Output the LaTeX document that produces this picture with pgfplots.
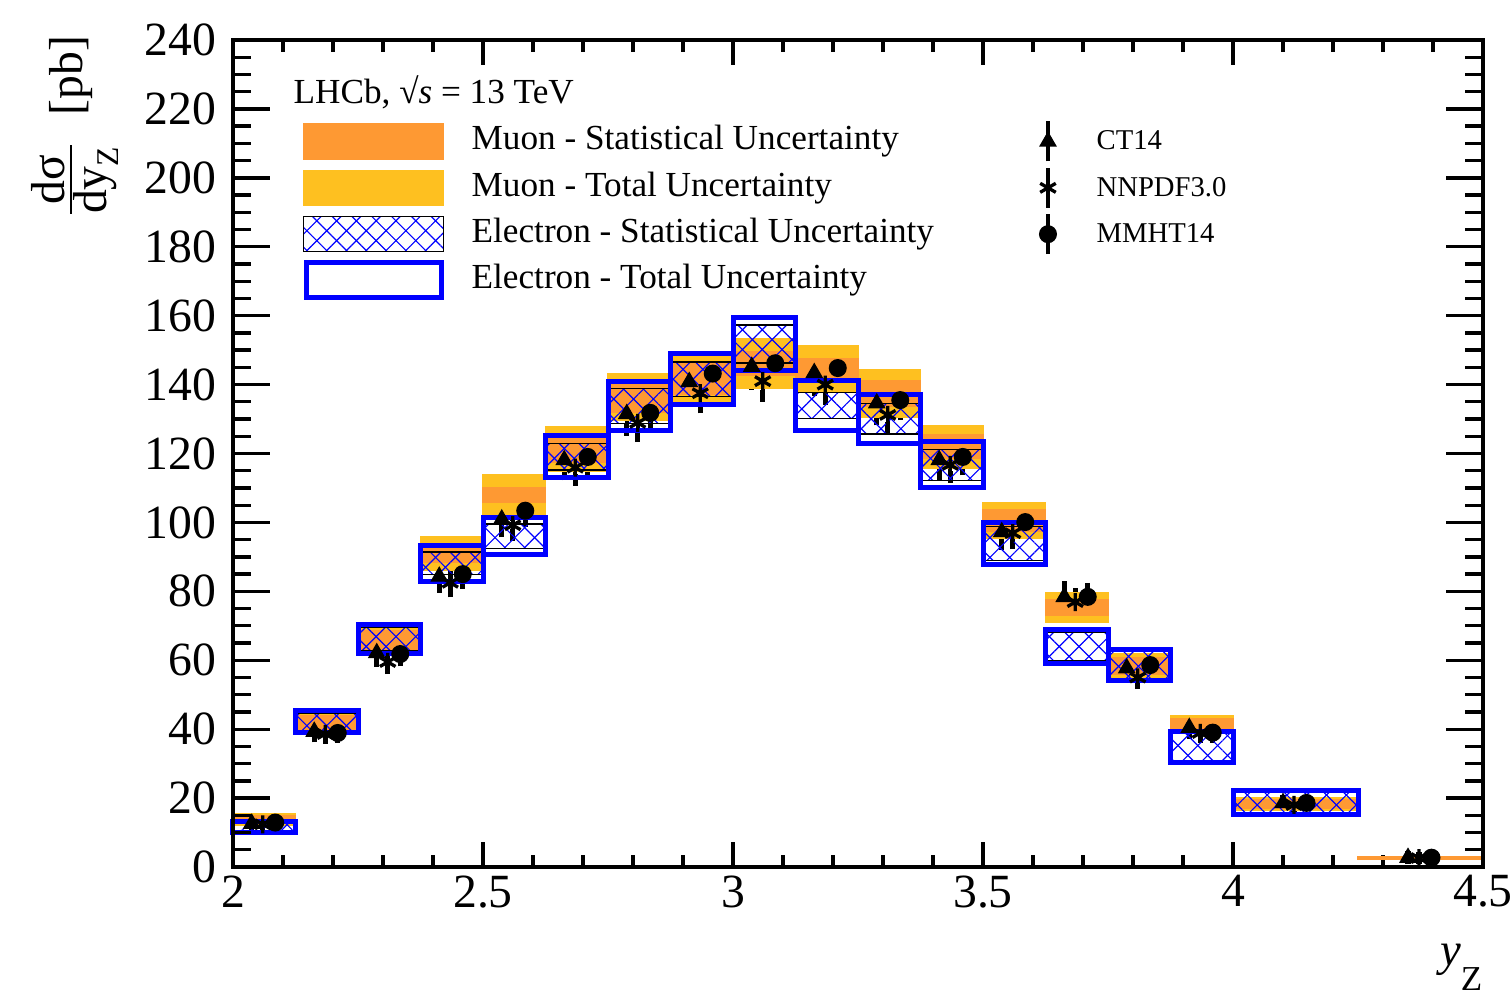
\documentclass[border=0pt]{standalone}
\usepackage{pgfplots}
\pgfplotsset{compat=1.18}
\usepackage{pgfplotstable}
\usetikzlibrary{patterns.meta}
\usepackage{fontspec}
\setmainfont{Liberation Serif}

\definecolor{muonstat}{RGB}{254,153,51}
\definecolor{muontot}{RGB}{254,192,32}
\definecolor{elblue}{RGB}{0,0,255}

\pgfdeclareplotmark{emptymark}{}

\pgfplotstableread{
lo    hi    mu    mus  mut  el    els  elt  ct    nn    mm
2.000 2.125 13.8  1.0  1.6  11.6  1.2  1.5  12.6  12.4  12.9
2.125 2.250 42.0  2.0  2.8  42.1  2.6  3.2  39.3  38.6  38.9
2.250 2.375 65.9  2.6  3.5  66.2  3.5  4.1  62.1  59.5  61.8
2.375 2.500 91.0  2.5  5.0  88.1  3.3  5.2  84.3  82.5  85.0
2.500 2.625 108.0 2.2  5.8  96.0  3.5  5.3  100.9 99.2  103.4
2.625 2.750 121.3 4.0  6.6  119.1 3.9  6.2  118.1 115.9 119.0
2.750 2.875 136.5 4.5  6.8  133.8 5.0  7.0  131.5 128.9 131.8
2.875 3.000 141.8 4.5  6.8  141.6 5.0  7.3  140.8 137.5 143.2
3.000 3.125 146.1 3.5  7.1  151.8 5.5  7.8  145.2 141.0 146.2
3.125 3.250 144.6 3.0  6.8  134.0 3.8  7.3  143.4 140.0 144.8
3.250 3.375 137.4 3.6  6.8  130.1 4.4  7.1  134.6 131.2 135.5
3.375 3.500 122.0 3.5  6.2  116.7 4.5  6.7  118.1 116.7 119.0
3.500 3.625 100.6 3.2  5.1  93.9  5.0  6.0  97.2  96.9  100.1
3.625 3.750 75.3  2.2  4.2  64.0  4.2  4.8  78.4  76.9  78.4
3.750 3.875 58.3  2.5  3.5  58.6  4.0  4.6  57.7  55.0  58.6
3.875 4.000 41.3  1.8  2.5  34.7  4.0  4.5  40.4  38.9  39.0
4.000 4.250 18.3  1.2  1.8  18.7  3.0  3.6  18.6  18.0  18.6
4.250 4.500 2.6   0.3  0.4  nan   nan  nan  2.7   2.6   2.7
}\zdata

\pgfplotsset{
  binscatter/.style={only marks, scatter, mark=emptymark, forget plot,
    visualization depends on={0.5*(\thisrow{hi}-\thisrow{lo}) \as \hw},
    visualization depends on={\thisrow{#1} \as \er},
    scatter/@post marker code/.code={}},
  theory/.style={forget plot, only marks, black, mark size=2.7pt,
    error bars/y dir=both, error bars/y explicit,
    error bars/error bar style={line width=1.2pt, black},
    error bars/error mark options={line width=1.6pt, mark size=1.8pt, black}},
}

\begin{document}
\begin{tikzpicture}
\path[use as bounding box] (-69.9pt,-37.8pt) rectangle (383.1pt,260.1pt);
\begin{axis}[
  at={(0,0)}, anchor=south west, scale only axis,
  width=375pt, height=248.1pt,
  xmin=2, xmax=4.5, ymin=0, ymax=240,
  xtick={2,2.5,3,3.5,4,4.5}, minor x tick num=4, ytick=\empty,
  major tick length=7.5pt, minor tick length=3.7pt,
  axis line style={line width=1.3pt},
  tick style={line width=1pt, black},
  xticklabel style={font=\fontsize{14.3}{16}\selectfont, yshift=1pt},
  /pgf/number format/assume math mode=true,
  legend columns=2,
  legend cell align=left,
  legend style={at={(0.056,0.9053)}, anchor=north west, draw=none, fill=none,
    inner sep=0pt, outer sep=0pt, row sep=0pt,
    nodes={inner sep=0pt, text height=9.5pt, text depth=4.4pt},
    font=\fontsize{10.56}{12}\selectfont,
    /tikz/every even column/.append style={column sep=30.2pt}},
]
% muon total
\addplot[binscatter=mut, scatter/@pre marker code/.code={%
  \fill[muontot] (axis direction cs:-\hw,-\er) rectangle (axis direction cs:\hw,\er);}]
  table[x expr={0.5*(\thisrow{lo}+\thisrow{hi})}, y=mu]{\zdata};
% muon stat
\addplot[binscatter=mus, scatter/@pre marker code/.code={%
  \fill[muonstat] (axis direction cs:-\hw,-\er) rectangle (axis direction cs:\hw,\er);}]
  table[x expr={0.5*(\thisrow{lo}+\thisrow{hi})}, y=mu]{\zdata};
% electron stat
\addplot[binscatter=els, scatter/@pre marker code/.code={%
  \path[pattern={Lines[angle=45,distance=4.2pt,line width=0.35pt]}, pattern color=elblue] (axis direction cs:-\hw,-\er) rectangle (axis direction cs:\hw,\er);
  \path[pattern={Lines[angle=-45,distance=4.2pt,line width=0.35pt]}, pattern color=elblue] (axis direction cs:-\hw,-\er) rectangle (axis direction cs:\hw,\er);}]
  table[x expr={0.5*(\thisrow{lo}+\thisrow{hi})}, y=el]{\zdata};
% electron total
\addplot[binscatter=elt, scatter/@pre marker code/.code={%
  \draw[elblue, line width=1.5pt] (axis direction cs:-\hw,-\er) rectangle (axis direction cs:\hw,\er);}]
  table[x expr={0.5*(\thisrow{lo}+\thisrow{hi})}, y=el]{\zdata};
% theory
\addplot[theory, mark=triangle*]
  table[x expr={0.5*(\thisrow{lo}+\thisrow{hi})-0.025}, y=ct, y error expr={0.035*\thisrow{ct}}]{\zdata};
\addplot[theory, mark=asterisk, mark options={line width=1pt}]
  table[x expr={0.5*(\thisrow{lo}+\thisrow{hi})-0.003}, y=nn, y error expr={0.03*\thisrow{nn}}]{\zdata};
\addplot[theory, mark=*, mark size=2.5pt]
  table[x expr={0.5*(\thisrow{lo}+\thisrow{hi})+0.022}, y=mm, y error expr={0.03*\thisrow{mm}}]{\zdata};

% legend
\addlegendimage{legend image code/.code={\fill[muonstat] (0pt,-5.25pt) rectangle (42pt,5.25pt); \path[draw=none,fill=none] (0pt,0pt) -- (50.4pt,0pt);}}
\addlegendentry{Muon - Statistical Uncertainty}
\addlegendimage{legend image code/.code={\draw[black,line width=1.2pt] (0pt,-6pt)--(0pt,6pt); \pgfsetplotmarksize{2.7pt}\pgfuseplotmark{triangle*} \path[draw=none,fill=none] (-4pt,0pt)--(14.6pt,0pt);}}
\addlegendentry{\fontsize{8.6}{10}\selectfont CT14}
\addlegendimage{legend image code/.code={\fill[muontot] (0pt,-5.25pt) rectangle (42pt,5.25pt); \path[draw=none,fill=none] (0pt,0pt) -- (50.4pt,0pt);}}
\addlegendentry{Muon - Total Uncertainty}
\addlegendimage{legend image code/.code={\draw[black,line width=1.2pt] (0pt,-6pt)--(0pt,6pt); \pgfsetlinewidth{1pt}\pgfsetplotmarksize{2.7pt}\pgfuseplotmark{asterisk} \path[draw=none,fill=none] (-4pt,0pt)--(14.6pt,0pt);}}
\addlegendentry{\fontsize{8.6}{10}\selectfont NNPDF3.0}
\addlegendimage{legend image code/.code={%
  \path[pattern={Lines[angle=45,distance=4.2pt,line width=0.35pt]}, pattern color=elblue] (0pt,-5.25pt) rectangle (42pt,5.25pt);
  \path[pattern={Lines[angle=-45,distance=4.2pt,line width=0.35pt]}, pattern color=elblue] (0pt,-5.25pt) rectangle (42pt,5.25pt);
  \path[draw=none,fill=none] (0pt,0pt) -- (50.4pt,0pt);}}
\addlegendentry{Electron - Statistical Uncertainty}
\addlegendimage{legend image code/.code={\draw[black,line width=1.2pt] (0pt,-6pt)--(0pt,6pt); \pgfsetplotmarksize{2.5pt}\pgfuseplotmark{*} \path[draw=none,fill=none] (-4pt,0pt)--(14.6pt,0pt);}}
\addlegendentry{\fontsize{8.6}{10}\selectfont MMHT14}
\addlegendimage{legend image code/.code={\draw[elblue, line width=1.5pt] (0.75pt,-5.25pt) rectangle (41.25pt,5.25pt); \path[draw=none,fill=none] (0pt,0pt) -- (50.4pt,0pt);}}
\addlegendentry{Electron - Total Uncertainty}
\end{axis}

\begin{axis}[
  at={(0,0)}, anchor=south west, scale only axis,
  width=375pt, height=248.1pt,
  xmin=2, xmax=4.5, ymin=0, ymax=240,
  xtick=\empty, ytick={0,20,...,240}, minor y tick num=3,
  major tick length=11.1pt, minor tick length=5.4pt,
  axis line style={line width=1.3pt},
  tick style={line width=1pt, black},
  yticklabel style={font=\fontsize{14.3}{16}\selectfont, xshift=-1.5pt},
  /pgf/number format/assume math mode=true,
  clip=false,
]
\node[inner sep=0pt, anchor=base west, font=\fontsize{10.56}{12}\selectfont] at (rel axis cs:0.048,0.9238) {LHCb, √\textit{s} = 13 TeV};
\node[inner sep=0pt, rotate=90, anchor=base east, font=\fontsize{14.3}{16}\selectfont] at ([xshift=-45pt,yshift=1.5pt]rel axis cs:0,1)
  {$\textstyle\frac{\mbox{dσ}}{\mbox{dy}_{\mbox{\fontsize{9.5}{10}\selectfont Z}}}$\hspace{0.55em}[pb]};
\node[inner sep=0pt, anchor=base east] at ([yshift=-29.4pt]rel axis cs:1,0)
  {{\fontsize{14}{16}\selectfont\itshape y}\raisebox{-7.5pt}{\fontsize{10.5}{12}\selectfont Z}};
\end{axis}
\end{tikzpicture}
\end{document}
